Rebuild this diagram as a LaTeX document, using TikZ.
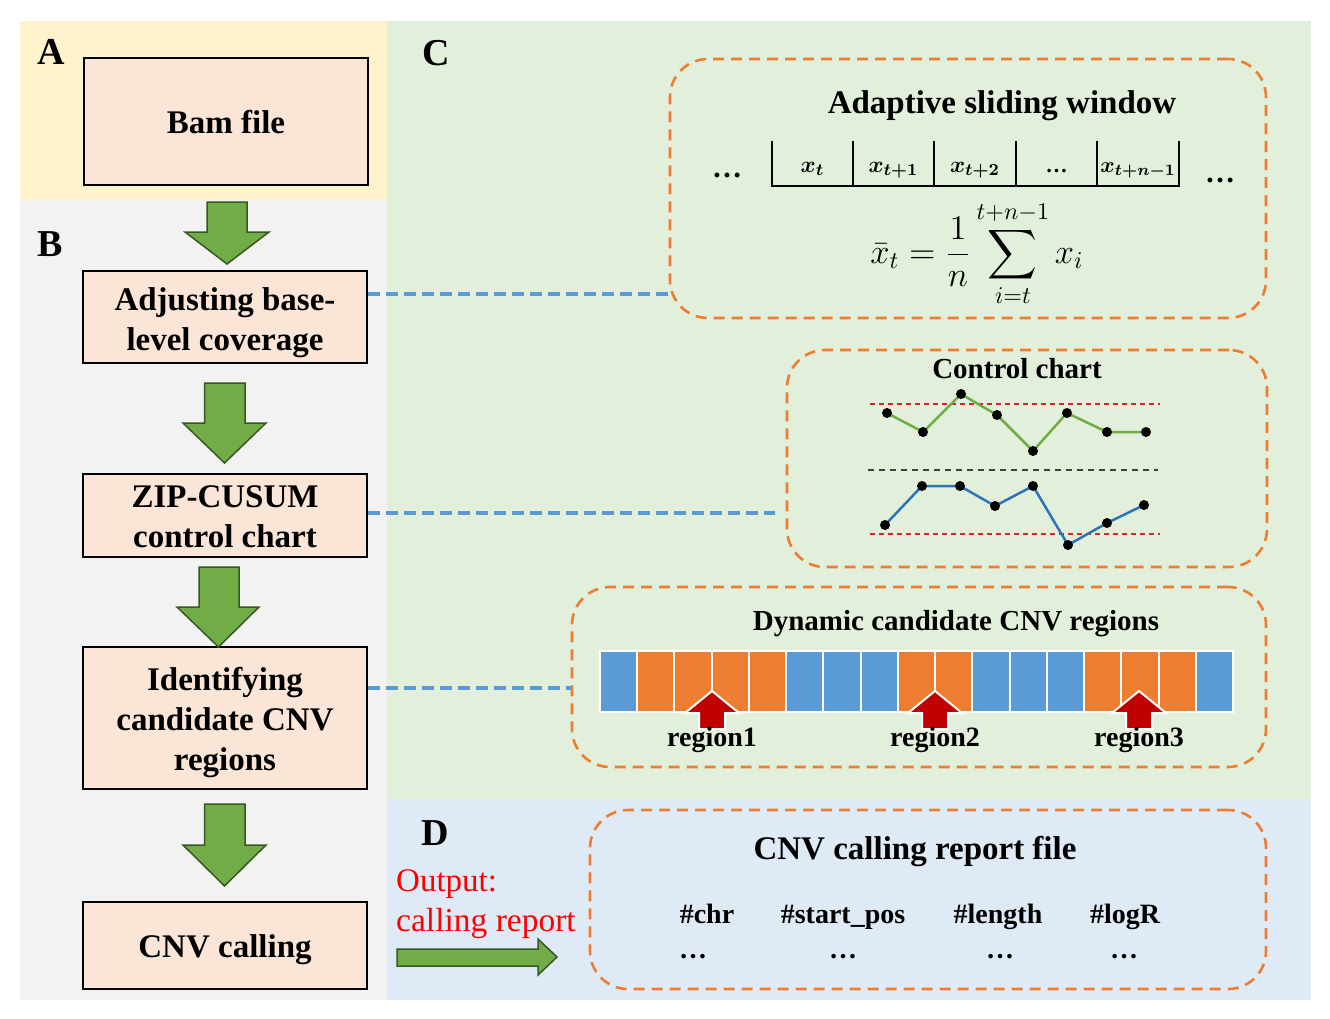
\documentclass[tikz,border=0pt]{standalone}
\usepackage{amsmath}
\usepackage{graphicx}
\usepackage{fontspec}
\setmainfont{Liberation Serif}
\definecolor{panelA}{RGB}{255,242,204}
\definecolor{panelB}{RGB}{242,242,242}
\definecolor{panelC}{RGB}{226,239,218}
\definecolor{panelD}{RGB}{222,235,247}
\definecolor{boxfill}{RGB}{251,229,214}
\definecolor{garrow}{RGB}{112,173,71}
\definecolor{garrowdark}{RGB}{56,87,35}
\definecolor{bluedash}{RGB}{91,155,213}
\definecolor{orangedash}{RGB}{237,125,49}
\definecolor{cellb}{RGB}{91,155,213}
\definecolor{cello}{RGB}{237,125,49}
\definecolor{darkred}{RGB}{192,0,0}
\definecolor{chartblue}{RGB}{46,117,182}
\definecolor{chartred}{RGB}{208,40,40}
\begin{document}
\begin{tikzpicture}[x=1pt,y=-1pt,
  flowbox/.style={draw=black, line width=1.2pt, fill=boxfill, inner sep=0pt},
  flowtext/.style={align=center, font=\fontsize{33}{40}\selectfont\bfseries, inner sep=0pt},
  dashbox/.style={draw=orangedash, line width=2.6pt, dash pattern=on 11pt off 7pt,
    rounded corners=38pt, inner sep=0pt},
  bluecon/.style={draw=bluedash, line width=3.8pt, dash pattern=on 12pt off 6pt},
  greenblock/.style={fill=garrow, draw=garrowdark, line width=1.5pt, line join=miter},
  redblock/.style={fill=darkred, draw=white, line width=2pt},
  letter/.style={font=\fontsize{38}{44}\selectfont\bfseries, anchor=base west, inner sep=0pt},
  title/.style={font=\bfseries, anchor=base, inner sep=0pt},
  dot/.style={circle, fill=black, inner sep=0pt, minimum size=10pt}
]
\fill[white] (0,0) rectangle (1330,1018);
\useasboundingbox (0,0) rectangle (1330,1018);
% panels
\fill[panelA] (20,21) rectangle (387,200);
\fill[panelB] (20,200) rectangle (387,1000);
\fill[panelC] (387,21) rectangle (1311,799);
\fill[panelD] (387,799) rectangle (1311,1000);
\node[letter] (lA) at (37,64) {A};
\node[letter] (lB) at (37,256) {B};
\node[letter] (lC) at (422,65) {C};
\node[letter] (lD) at (421,845) {D};

% flow boxes
\node[flowbox, minimum width=284pt, minimum height=127pt] (bam) at (226,121.5) {};
\node[flowtext] (bamt) at ([yshift=-1pt]bam.center) {Bam file};
\node[flowbox, minimum width=284pt, minimum height=92pt] (adj) at (225,317) {};
\node[flowtext] (adjt) at ([yshift=-6pt]adj.center) {Adjusting base-\\level coverage};
\node[flowbox, minimum width=284pt, minimum height=83pt] (zip) at (225,515.5) {};
\node[flowtext] (zipt) at ([yshift=-1.5pt]zip.center) {ZIP-CUSUM\\control chart};
\node[flowbox, minimum width=284pt, minimum height=142pt] (ident) at (225,718) {};
\node[flowtext] (identt) at ([yshift=-5pt]ident.center) {Identifying\\candidate CNV\\regions};
\node[flowbox, minimum width=284pt, minimum height=87pt] (call) at (225,945.5) {};
\node[flowtext] (callt) at ([yshift=-4pt]call.center) {CNV calling};

% green block arrows
\draw[greenblock] (207,202) -- (247,202) -- (247,232) -- (269,232) -- (227,264) -- (185,232) -- (207,232) -- cycle;
\draw[greenblock] (204.5,383) -- (245,383) -- (245,423) -- (266,423) -- (224.5,463) -- (183,423) -- (204.5,423) -- cycle;
\draw[greenblock] (199,567) -- (239,567) -- (239,607) -- (259,607) -- (218.5,647) -- (177,607) -- (199,607) -- cycle;
\draw[greenblock] (204.5,804) -- (245,804) -- (245,845) -- (266,845) -- (224.5,886) -- (183,845) -- (204.5,845) -- cycle;

% dashed orange boxes
\node[dashbox, minimum width=596pt, minimum height=259pt] (c1) at (968,188.5) {};
\node[dashbox, minimum width=480pt, minimum height=217pt] (c2) at (1027,458.5) {};
\node[dashbox, minimum width=694pt, minimum height=180pt] (c3) at (919,677) {};
\node[dashbox, minimum width=676pt, minimum height=179pt] (d1) at (928,899.5) {};

% blue dashed connectors
\draw[bluecon] (adj.east |- 0,294) coordinate (adjr) -- (adjr -| c1.west);
\draw[bluecon, shorten >=11pt] (zip.east |- 0,513) coordinate (zipr) -- (zipr -| c2.west);
\draw[bluecon] (ident.east |- 0,688) coordinate (idr) -- (idr -| c3.west);

% C1: adaptive sliding window
\node[title, font=\fontsize{33}{38}\selectfont\bfseries] (t1) at (1002,113) {Adaptive sliding window};
\draw[line width=2pt] (772,141) -- (772,185.5) -- (1179,185.5) -- (1179,141);
\foreach \xx in {853,934,1016,1097} \draw[line width=2pt] (\xx,141) -- (\xx,185.5);
\begin{scope}[every node/.style={anchor=base, inner sep=0pt, font=\fontsize{11}{13}\selectfont}]
\node (w1) at (812.5,172) {\scalebox{2.1}{$\boldsymbol{x_{t}}$}};
\node (w2) at (893.5,172) {\scalebox{2.1}{$\boldsymbol{x_{t+1}}$}};
\node (w3) at (975,172) {\scalebox{2.1}{$\boldsymbol{x_{t+2}}$}};
\node (w4) at (1056.5,172) {\scalebox{2}{\bfseries …}};
\node (w5) at (1138,172) {\scalebox{2}{$\boldsymbol{x_{t+n-1}}$}};
\end{scope}
\node[anchor=base, inner sep=0pt, font=\fontsize{30}{34}\selectfont\bfseries] (ldots) at (727,177) {…};
\node[anchor=base, inner sep=0pt, font=\fontsize{30}{34}\selectfont\bfseries] (rdots) at (1220,182) {…};
\node[inner sep=0pt, font=\fontsize{14.4}{17}\selectfont] (formula) at (977,254)
  {\scalebox{2.4}{$\displaystyle \bar{x}_t = \frac{1}{n}\sum_{i=t}^{t+n-1} x_i$}};

% C2: control chart
\node[title, font=\fontsize{29}{34}\selectfont\bfseries] (t2) at (1017,378) {Control chart};
\draw[chartred, line width=1.5pt, dash pattern=on 5pt off 4pt] (870,404) -- (1160,404);
\draw[black!75, line width=2pt, dash pattern=on 6pt off 5pt] (868,470) -- (1158,470);
\draw[chartred, line width=1.5pt, dash pattern=on 5pt off 4pt] (870,534) -- (1160,534);
\draw[garrow, line width=2.5pt] (887,413) -- (923,432) -- (961,394) -- (997,415) -- (1033,451) -- (1067,413) -- (1107,432) -- (1146,432);
\foreach \p in {(887,413),(923,432),(961,394),(997,415),(1033,451),(1067,413),(1107,432),(1146,432)}
  \node[dot] at \p {};
\draw[chartblue, line width=2.5pt] (885,525) -- (922,486) -- (960,486) -- (995,506) -- (1033,486) -- (1068,545) -- (1107,523) -- (1144,505);
\foreach \p in {(885,525),(922,486),(960,486),(995,506),(1033,486),(1068,545),(1107,523),(1144,505)}
  \node[dot] at \p {};

% C3: dynamic candidate CNV regions
\node[title, font=\fontsize{29}{34}\selectfont\bfseries] (t3) at (956,630) {Dynamic candidate CNV regions};
\foreach \c [count=\i from 0] in {b,o,o,o,o,b,b,b,o,o,b,b,b,o,o,o,b}
  \filldraw[fill=cell\c, draw=white, line width=2pt] ({600+\i*37.235},651) rectangle ++(37.235,61);
\foreach \tx/\lab in {712/region1, 935/region2, 1139/region3}{
  \draw[redblock] (\tx,691) -- ({\tx+27},713) -- ({\tx+13},713) -- ({\tx+13},729) -- ({\tx-13},729) -- ({\tx-13},713) -- ({\tx-27},713) -- cycle;
  \node[title, font=\fontsize{28}{32}\selectfont\bfseries] at (\tx,746) {\lab};
}

% D: report
\node[title, font=\fontsize{33}{38}\selectfont\bfseries] (t4) at (915,859) {CNV calling report file};
\begin{scope}[every node/.style={title, font=\fontsize{28}{32}\selectfont\bfseries}]
\node (h1) at (707,923) {\#chr};
\node (h2) at (843,923) {\#start\_pos};
\node (h3) at (998,923) {\#length};
\node (h4) at (1125,923) {\#logR};
\node (e1) at (693,958) {…};
\node (e2) at (843,958) {…};
\node (e3) at (1000,958) {…};
\node (e4) at (1124,958) {…};
\end{scope}
\node[anchor=base west, inner sep=0pt, text=red, font=\fontsize{33}{38}\selectfont] (out1) at (396,891) {Output:};
\node[anchor=base west, inner sep=0pt, text=red, font=\fontsize{33.5}{38}\selectfont] (out2) at (396,931) {calling report};
\draw[greenblock] (397,949) -- (538,949) -- (538,939) -- (557,957) -- (538,975) -- (538,966) -- (397,966) -- cycle;
\end{tikzpicture}
\end{document}
